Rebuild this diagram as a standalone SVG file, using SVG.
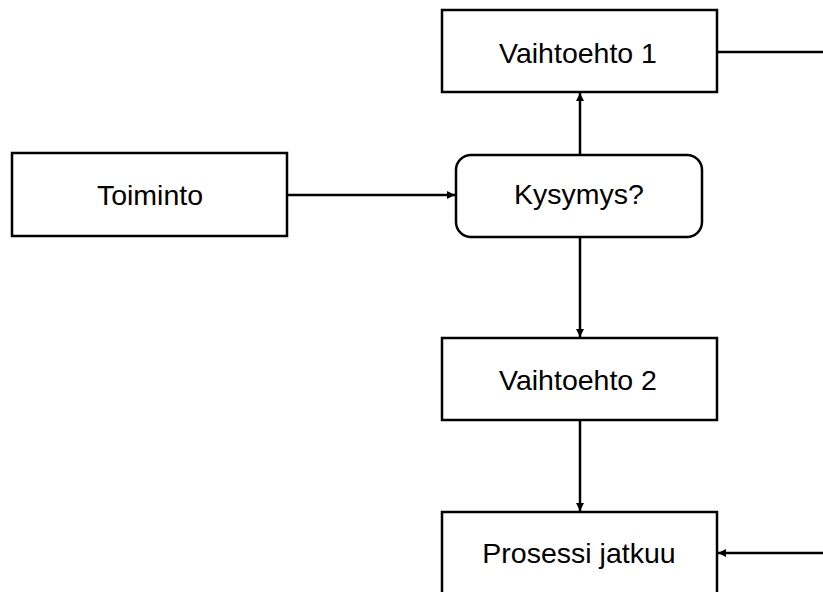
<svg xmlns="http://www.w3.org/2000/svg" width="823" height="592" viewBox="0 0 823 592">
<defs>
<style>
.box{fill:#fff;stroke:#000;stroke-width:2.5}
.lbl{font-family:"Liberation Sans",Arial,sans-serif;font-size:28.5px;fill:#000;text-anchor:middle}
.conn{stroke:#000;stroke-width:2.5;fill:none}
</style>
<marker id="ah" markerWidth="8" markerHeight="8" viewBox="0 0 8 8" refX="8" refY="4" orient="auto" markerUnits="userSpaceOnUse">
<path d="M0,0 L8,4 L0,8 Z" fill="#000"/>
</marker>
</defs>
<rect width="823" height="592" fill="#fff"/>
<g id="connectors">
<line class="conn" x1="287" y1="195" x2="455" y2="195" marker-end="url(#ah)"/>
<line class="conn" x1="580" y1="155" x2="580" y2="93" marker-end="url(#ah)"/>
<line class="conn" x1="580" y1="237" x2="580" y2="337" marker-end="url(#ah)"/>
<line class="conn" x1="580" y1="420" x2="580" y2="511" marker-end="url(#ah)"/>
<line class="conn" x1="717" y1="52" x2="823" y2="52"/>
<line class="conn" x1="823" y1="553" x2="718" y2="553" marker-end="url(#ah)"/>
</g>
<g id="vaihtoehto1">
<rect class="box" x="442" y="10" width="275" height="82"/>
<text class="lbl" x="578" y="63">Vaihtoehto 1</text>
</g>
<g id="toiminto">
<rect class="box" x="12" y="153" width="275" height="83"/>
<text class="lbl" x="150" y="205">Toiminto</text>
</g>
<g id="kysymys">
<rect class="box" x="456" y="155" width="246" height="82" rx="15" ry="15"/>
<text class="lbl" x="579" y="204">Kysymys?</text>
</g>
<g id="vaihtoehto2">
<rect class="box" x="442" y="338" width="275" height="82"/>
<text class="lbl" x="578" y="390">Vaihtoehto 2</text>
</g>
<g id="prosessi">
<rect class="box" x="442" y="512" width="275" height="100"/>
<text class="lbl" x="579" y="563">Prosessi jatkuu</text>
</g>
</svg>
